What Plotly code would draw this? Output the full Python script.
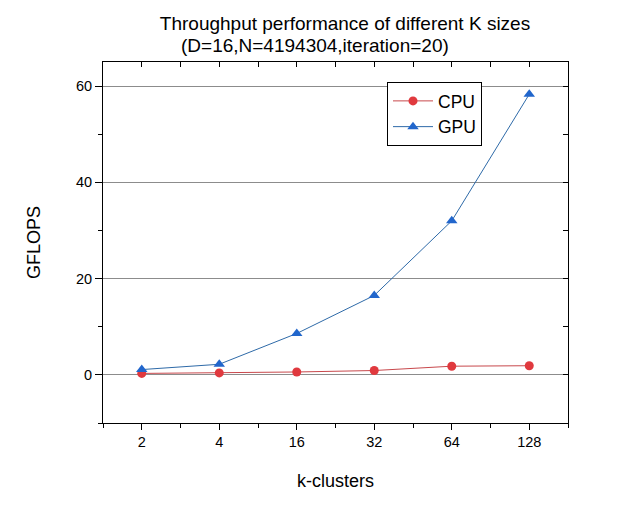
import plotly.graph_objects as go

# data
k_labels = ['2', '4', '16', '32', '64', '128']
cpu_gflops = [0.3, 0.4, 0.6, 0.9, 1.8, 1.9]
gpu_gflops = [1.1, 2.2, 8.6, 16.5, 32.0, 58.3]
y_ticks = [0, 20, 40, 60]

x_pos = list(range(len(k_labels)))
font = 'Liberation Sans, Arial, sans-serif'

data = [
    go.Scatter(x=x_pos, y=cpu_gflops, name='CPU', mode='lines+markers',
               line=dict(color='#c8484c', width=1),
               marker=dict(symbol='circle', size=9, color='#e0393e')),
    go.Scatter(x=x_pos, y=gpu_gflops, name='GPU', mode='lines+markers',
               line=dict(color='#2e6aa8', width=1),
               marker=dict(symbol='triangle-up', size=10, color='#2166cc')),
    # empty trace so the top/right tick axes get drawn
    go.Scatter(x=[], y=[], xaxis='x2', yaxis='y2', showlegend=False, hoverinfo='skip'),
]

# page has an 8px body margin, so the figure is 616x500
W, H = 616, 500
L, R, T, B = 95, 56, 54, 85
pw, ph = W - L - R, H - T - B

layout = go.Layout(
    width=W, height=H,
    paper_bgcolor='white', plot_bgcolor='white',
    margin=dict(l=L, r=R, t=T, b=B),
    font=dict(family=font, color='black'),
    title=dict(text='Throughput performance of different K sizes',
               font=dict(size=19), x=337 / W, xanchor='center',
               y=1 - 15 / H, yanchor='middle'),
    annotations=[dict(text='(D=16,N=4194304,iteration=20)', xref='paper', yref='paper',
                      x=(307 - L) / pw, y=1 + (T - 38) / ph, xanchor='center',
                      yanchor='middle', showarrow=False, font=dict(size=19))],
    xaxis=dict(range=[-0.5, 5.5], tickvals=x_pos, ticktext=k_labels,
               ticks='outside', ticklen=6, tickcolor='black', showgrid=False,
               zeroline=False, showline=True, linecolor='black', linewidth=1,
               tickfont=dict(size=14.5),
               minor=dict(dtick=0.5, tick0=0, ticks='outside', ticklen=4, tickcolor='black'),
               title=dict(text='k-clusters', font=dict(size=18), standoff=24)),
    yaxis=dict(range=[-10, 65], tickvals=y_ticks, ticks='outside', ticklen=7,
               tickcolor='black', showgrid=True, gridcolor='#8c8c8c', gridwidth=1,
               zeroline=False, showline=True, linecolor='black', linewidth=1,
               tickfont=dict(size=14.5),
               minor=dict(dtick=10, tick0=0, ticks='outside', ticklen=4, tickcolor='black'),
               title=dict(text='GFLOPS', font=dict(size=18), standoff=30)),
    xaxis2=dict(overlaying='x', side='top', range=[-0.5, 5.5], dtick=0.5, tick0=0,
                ticks='inside', ticklen=5, tickcolor='black', showticklabels=False,
                showgrid=False, zeroline=False, showline=True, linecolor='black'),
    yaxis2=dict(overlaying='y', side='right', range=[-10, 65], dtick=10, tick0=0,
                ticks='inside', ticklen=5, tickcolor='black', showticklabels=False,
                showgrid=False, zeroline=False, showline=True, linecolor='black'),
    legend=dict(x=(379 - L) / pw, y=(415 - 74) / ph, xanchor='left', yanchor='top',
                bordercolor='black', borderwidth=1, bgcolor='white',
                font=dict(size=17.5), tracegroupgap=0, itemwidth=40),
    showlegend=True,
)

fig = go.Figure(data=data, layout=layout)
fig.write_html('out.html')
